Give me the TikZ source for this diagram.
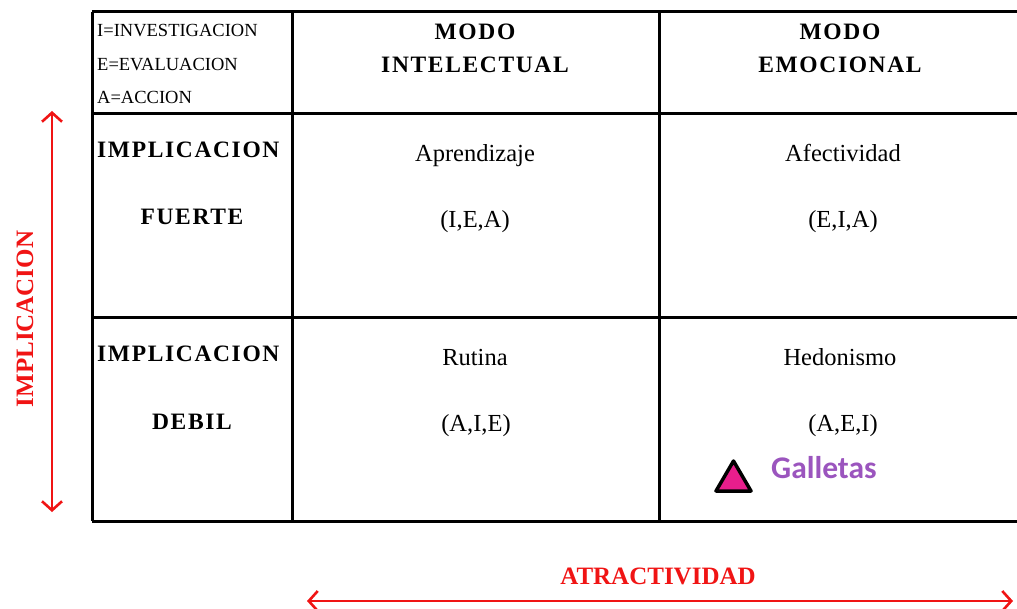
\documentclass[tikz,border=0pt]{standalone}
\usepackage{fontspec}
\setmainfont{Liberation Serif}
\newfontfamily\galletasfont{Carlito}
\usepackage{xcolor}
\usetikzlibrary{arrows.meta,positioning}
\definecolor{axisred}{RGB}{240,20,20}
\definecolor{galletaspurple}{RGB}{155,85,190}
\definecolor{trianglepink}{RGB}{232,30,140}
\tikzset{
  every node/.style={inner sep=0pt},
  legend/.style={anchor=base west, font=\fontsize{18.5}{20}\selectfont},
  head/.style={anchor=base, font=\fontsize{23.5}{25}\selectfont\bfseries\addfontfeature{LetterSpace=7}},
  rowhead/.style={anchor=base west, font=\fontsize{23.5}{25}\selectfont\bfseries\addfontfeature{LetterSpace=7}},
  cell/.style={anchor=base, font=\fontsize{24.5}{26}\selectfont},
  gridline/.style={line width=3pt, black},
  axis/.style={{Straight Barb[length=9pt,width=20pt]}-{Straight Barb[length=9pt,width=20pt]}, line width=2.6pt, axisred},
  axislabel/.style={font=\fontsize{25}{27}\selectfont\bfseries, text=axisred}
}
\begin{document}
\begin{tikzpicture}[x=1pt, y=-1pt]
\useasboundingbox (0,0) rectangle (1017,609);

% grid of the matrix
\begin{scope}
\clip (0,0) rectangle (1017,609);
\draw[gridline] (92,12) -- (1030,12);
\draw[gridline] (92,114) -- (1030,114);
\draw[gridline] (92,318) -- (1030,318);
\draw[gridline] (92,521) -- (1030,521);
\foreach \x in {92,292,659}
  \draw[gridline] (\x,12) -- (\x,521);
\end{scope}

% legend cell
\node[legend] (legi) at (97,37) {I=INVESTIGACION};
\node[legend] (lege) at (97,71) {E=EVALUACION};
\node[legend] (lega) at (97,104) {A=ACCION};

% column headers
\node[head] (modoint) at (475,40) {MODO};
\node[head] (intelectual) at (475,73) {INTELECTUAL};
\node[head] (modoemo) at (840,40) {MODO};
\node[head] (emocional) at (840,73) {EMOCIONAL};

% row headers
\node[rowhead] (implfuerte) at (97,158) {IMPLICACION};
\node[head] (fuerte) at (192,225) {FUERTE};
\node[rowhead] (impldebil) at (97,362) {IMPLICACION};
\node[head] (debil) at (192,429) {DEBIL};

% cells
\node[cell] (aprendizaje) at (475,162) {Aprendizaje};
\node[cell] (iea) at (475,228) {(I,E,A)};
\node[cell] (afectividad) at (843,162) {Afectividad};
\node[cell] (eia) at (843,228) {(E,I,A)};
\node[cell] (rutina) at (475,366) {Rutina};
\node[cell] (aie) at (476,431) {(A,I,E)};
\node[cell] (hedonismo) at (840,366) {Hedonismo};
\node[cell] (aei) at (843,431) {(A,E,I)};

% product marker
\draw[line width=3.5pt, line join=round, fill=trianglepink] (716,491) -- (751,491) -- (733.5,461) -- cycle;
\node[anchor=base west, font=\fontsize{31.5}{33}\selectfont\galletasfont\bfseries, text=galletaspurple] (galletas) at (771,478) {Galletas};

% axes
\coordinate (implup) at (52,111);
\coordinate (impldown) at (52,512);
\draw[axis] (implup) -- (impldown);
\node[axislabel, rotate=90] (implicacion) at (25,319) {IMPLICACION};

\coordinate (atrleft) at (307,601);
\coordinate (atrright) at (1013,601);
\draw[axis] (atrleft) -- (atrright);
\node[axislabel, anchor=base] (atractividad) at (658,584) {ATRACTIVIDAD};
\end{tikzpicture}
\end{document}
